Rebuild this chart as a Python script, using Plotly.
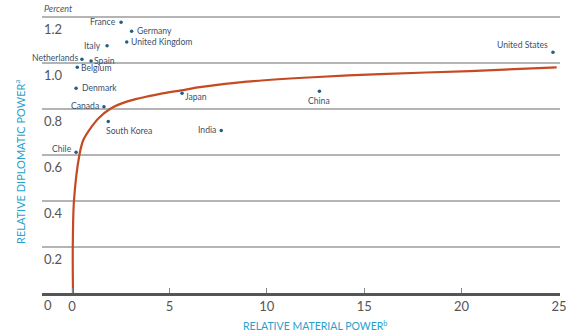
import plotly.graph_objects as go

# ---- data ----
countries = ["France", "Germany", "United Kingdom", "Italy", "Netherlands", "Spain",
             "Belgium", "Denmark", "Canada", "South Korea", "Japan", "India", "Chile",
             "United States", "China"]
material_power = [2.52, 3.06, 2.81, 1.80, 0.51, 0.98, 0.27, 0.21, 1.64, 1.86, 5.65,
                  7.66, 0.21, 24.69, 12.70]
diplomatic_power = [1.177, 1.138, 1.091, 1.075, 1.016, 1.009, 0.981, 0.890, 0.810,
                    0.746, 0.868, 0.707, 0.612, 1.047, 0.877]

curve_x = [0.05, 0.04, 0.10, 0.38, 0.58, 1.01, 1.35, 1.95, 2.81, 4.52, 5.60, 6.57,
           8.97, 12.39, 15.81, 20.43, 24.88]
curve_y = [0.0, 0.2, 0.4, 0.6, 0.665, 0.723, 0.759, 0.8, 0.832, 0.866, 0.881, 0.895,
           0.919, 0.938, 0.952, 0.965, 0.981]

x_ticks = [0, 5, 10, 15, 20, 25]
y_ticks = [0, 0.2, 0.4, 0.6, 0.8, 1.0, 1.2]
y_tick_labels = ["0", "0.2", "0.4", "0.6", "0.8", "1.0", "1.2"]

# ---- label placement (style) ----
label_pos = {
    "France": ("right", "middle", -3, 0),
    "Germany": ("left", "middle", 3, 0),
    "United Kingdom": ("left", "middle", 2, 0),
    "Italy": ("right", "middle", -4, 0),
    "Netherlands": ("right", "middle", -2, 1),
    "Spain": ("left", "middle", 1, 0),
    "Belgium": ("left", "middle", 2, -1),
    "Denmark": ("left", "middle", 4, 0),
    "Canada": ("right", "middle", -3, 1),
    "South Korea": ("left", "top", -4, -3),
    "Japan": ("left", "middle", 1, -4),
    "India": ("right", "middle", -3, 0),
    "Chile": ("right", "middle", -2, 3),
    "United States": ("right", "bottom", -3, 0),
    "China": ("center", "top", 0, -3),
}

teal = "#2a9fcb"
dot_col = "#1e5f86"
lbl_col = "#3b4f6b"
tick_col = "#555555"

fig = go.Figure()

fig.add_trace(go.Scatter(
    x=curve_x, y=curve_y, mode="lines",
    line=dict(color="#c54a22", width=2.2, shape="spline", smoothing=0.8),
    hoverinfo="skip", showlegend=False))

fig.add_trace(go.Scatter(
    x=material_power, y=diplomatic_power, mode="markers",
    marker=dict(color=dot_col, size=3.5), text=countries,
    showlegend=False))

annotations = []
for c, xv, yv in zip(countries, material_power, diplomatic_power):
    xa, ya, xs, ys = label_pos[c]
    annotations.append(dict(x=xv, y=yv, xref="x", yref="y", text=c, showarrow=False,
                            xanchor=xa, yanchor=ya, xshift=xs, yshift=ys,
                            font=dict(family="Lato", size=8.6, color=lbl_col)))

for v, t in zip(y_ticks, y_tick_labels):
    annotations.append(dict(x=0, xref="paper", y=v, yref="y", text=t, showarrow=False,
                            xanchor="left", yanchor="top", yshift=-2, xshift=0,
                            font=dict(family="Lato", size=13, color=tick_col)))

annotations.append(dict(x=0, xref="paper", y=1.2, yref="y", text="<i>Percent</i>",
                        showarrow=False, xanchor="left", yanchor="bottom", yshift=1,
                        font=dict(family="Lato", size=9, color=tick_col)))

annotations.append(dict(x=(19 - 42) / 518, xref="paper", y=(293 - 162) / 288, yref="paper",
                        text="RELATIVE DIPLOMATIC POWER<sup>a</sup>", textangle=-90,
                        showarrow=False, xanchor="center", yanchor="middle",
                        font=dict(family="Lato", size=11, color=teal)))

annotations.append(dict(x=(315 - 42) / 518, xref="paper", y=(293 - 325) / 288, yref="paper",
                        text="RELATIVE MATERIAL POWER<sup>b</sup>",
                        showarrow=False, xanchor="center", yanchor="middle",
                        font=dict(family="Lato", size=10.5, color=teal)))

fig.update_layout(
    width=579, height=334,
    margin=dict(l=42, r=19, t=5, b=41),
    paper_bgcolor="white", plot_bgcolor="white",
    annotations=annotations,
    xaxis=dict(range=[-1.54, 25.05], tickvals=x_ticks, ticks="inside", ticklen=5,
               tickcolor="#888888", tickwidth=1, showgrid=False, zeroline=False,
               showline=True, linecolor="#555555", linewidth=2.5,
               tickfont=dict(family="Lato", size=13, color=tick_col)),
    yaxis=dict(range=[0, 288 / 230], tickvals=y_ticks, showticklabels=False,
               showgrid=True, gridcolor="#b4b4b4", gridwidth=1.5, zeroline=False,
               showline=False),
)

fig.write_html("out.html")
